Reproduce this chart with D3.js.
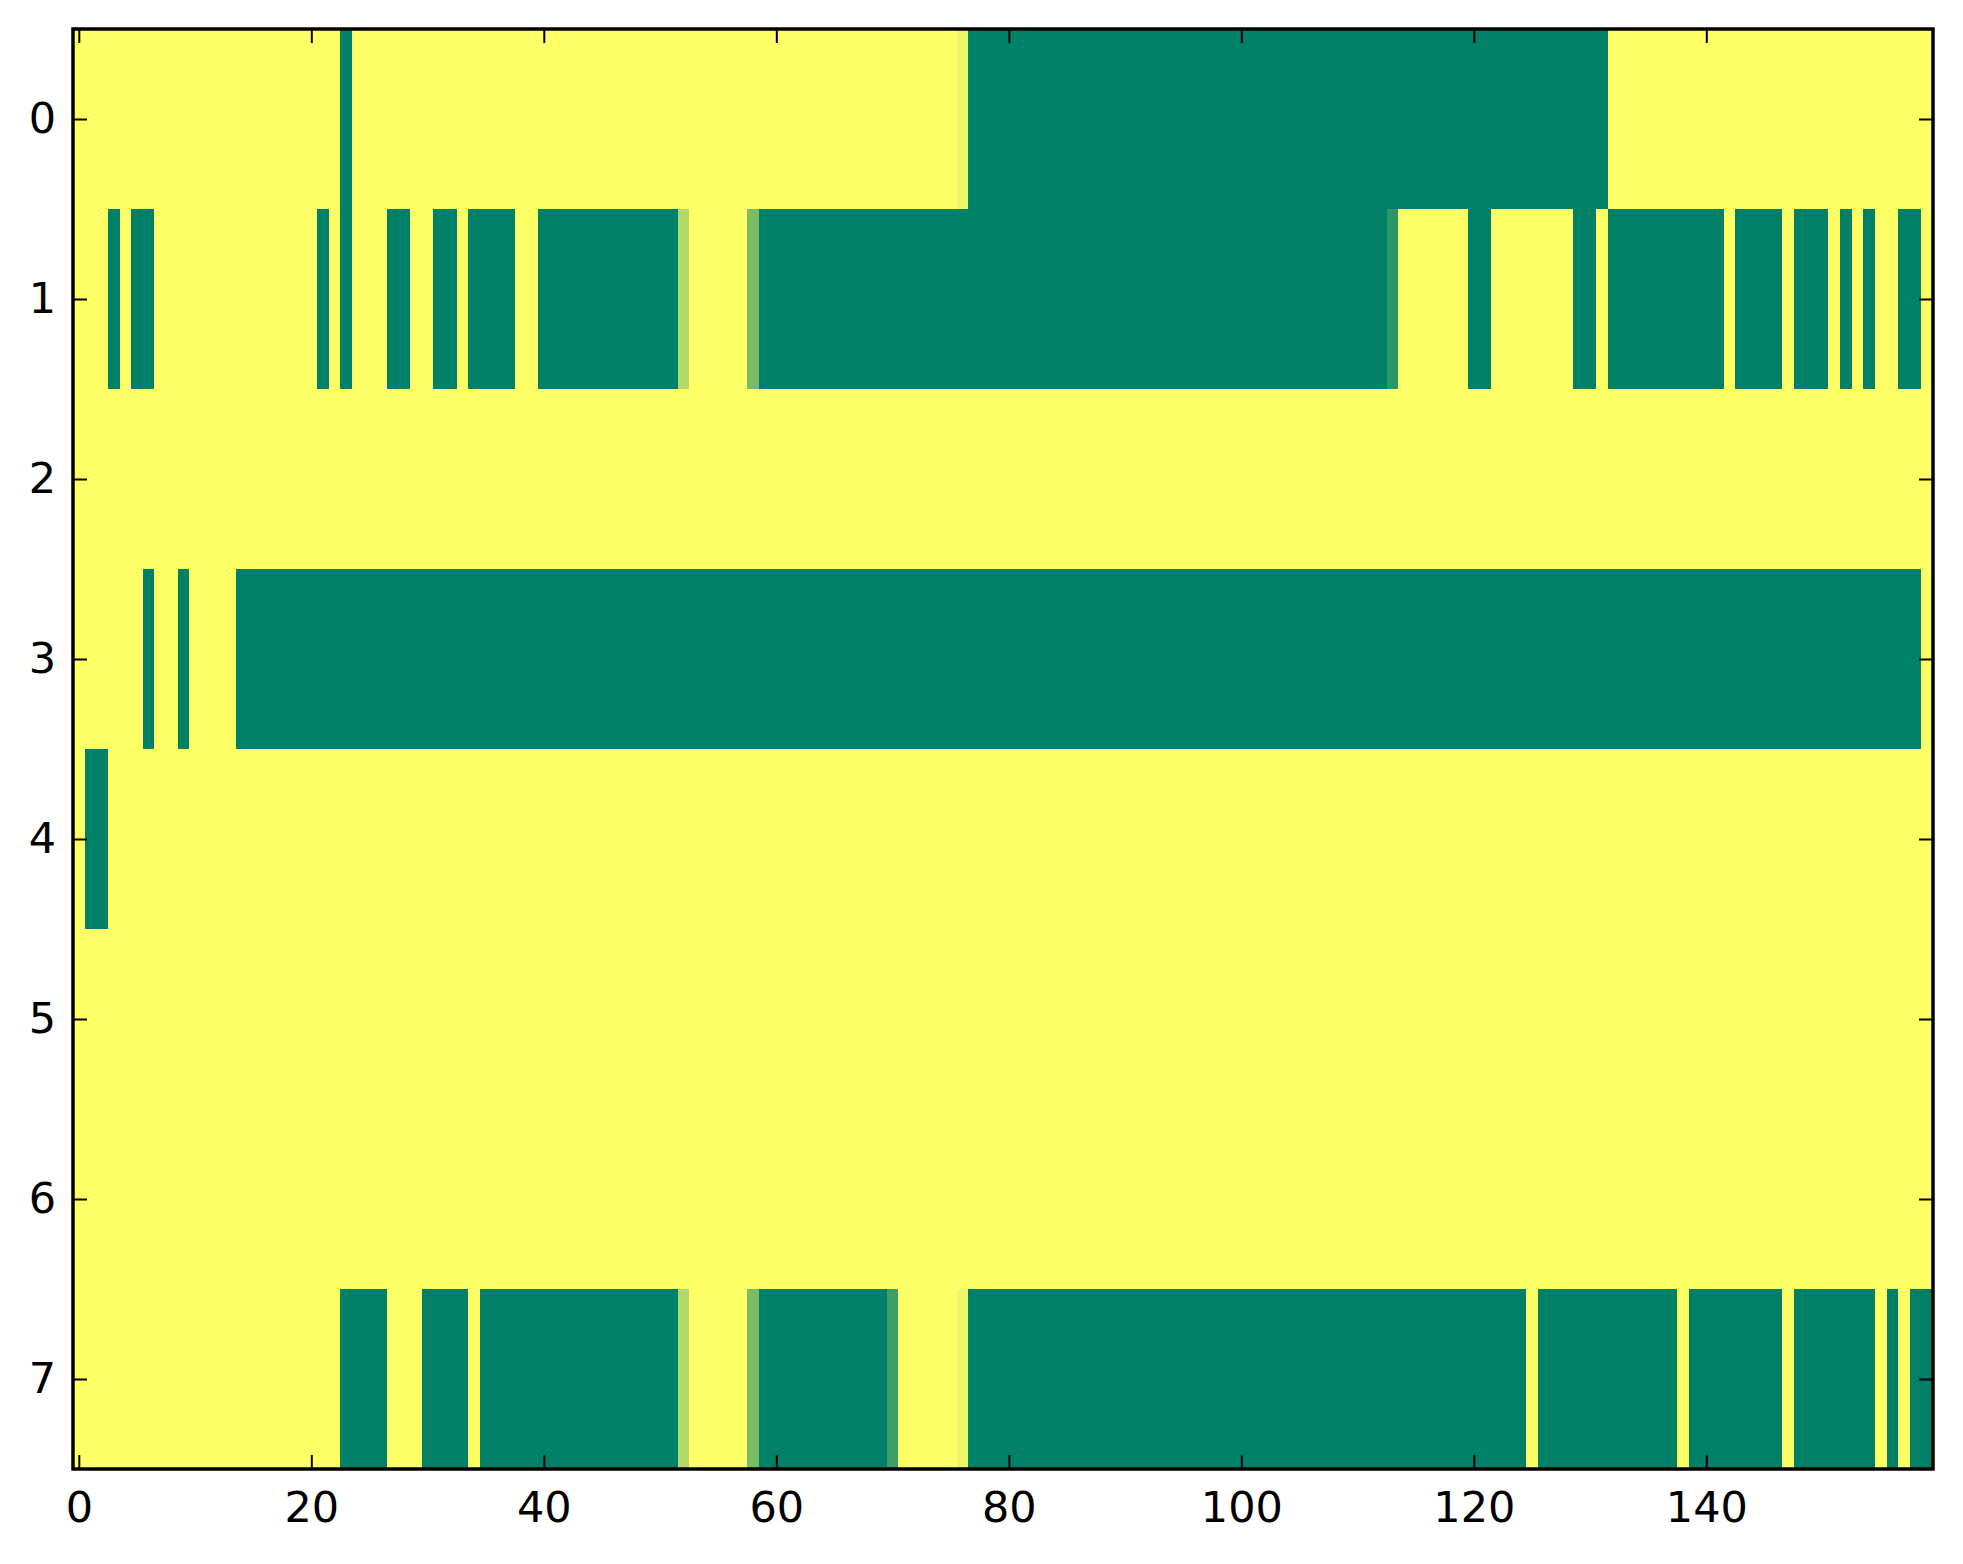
<!DOCTYPE html>
<html>
<head>
<meta charset="utf-8">
<script src="https://cdn.jsdelivr.net/npm/d3@7"></script>
<style>
  html, body { margin: 0; padding: 0; background: #ffffff; }
  svg { display: block; }
  text { font-family: "DejaVu Sans", sans-serif; }
</style>
</head>
<body>
<script>
// ---- data ----
const nRows = 8;
const nCols = 160;
const rowLabels = [0, 1, 2, 3, 4, 5, 6, 7];
const xTickValues = [0, 20, 40, 60, 80, 100, 120, 140];

// non-zero spans: [row, firstCol, lastCol, value]; everything else is 0
const row0Spans = [[0, 23, 23, 1], [0, 76, 76, 0.07], [0, 77, 131, 1]];
const row1Spans = [
  [1, 3, 3, 1], [1, 5, 6, 1], [1, 21, 21, 1], [1, 23, 23, 1], [1, 27, 28, 1],
  [1, 31, 32, 1], [1, 34, 37, 1], [1, 40, 51, 1], [1, 52, 52, 0.30],
  [1, 58, 58, 0.53], [1, 59, 112, 1], [1, 113, 113, 0.83], [1, 120, 121, 1],
  [1, 129, 130, 1], [1, 132, 141, 1], [1, 143, 146, 1], [1, 148, 150, 1],
  [1, 152, 152, 1], [1, 154, 154, 1], [1, 157, 158, 1]
];
const row3Spans = [[3, 6, 6, 1], [3, 9, 9, 1], [3, 14, 158, 1]];
const row4Spans = [[4, 1, 2, 1]];
const row7Spans = [
  [7, 23, 26, 1], [7, 30, 33, 1], [7, 35, 51, 1], [7, 52, 52, 0.30],
  [7, 58, 58, 0.53], [7, 59, 69, 1], [7, 70, 70, 0.76], [7, 76, 76, 0.07],
  [7, 77, 124, 1], [7, 126, 137, 1], [7, 139, 146, 1], [7, 148, 154, 1],
  [7, 156, 156, 1], [7, 158, 159, 1]
];

// build the matrix
const matrix = d3.range(nRows).map(() => new Array(nCols).fill(0));
[row0Spans, row1Spans, row3Spans, row4Spans, row7Spans].forEach(list =>
  list.forEach(([r, a, b, v]) => { for (let c = a; c <= b; c++) matrix[r][c] = v; })
);
const cells = [];
matrix.forEach((row, r) => row.forEach((v, c) => cells.push({ r, c, v })));

// ---- drawing ----
const W = 1963, H = 1564;
const L = 73, R = 1933, T = 29, B = 1469;

const svg = d3.select("body").append("svg").attr("width", W).attr("height", H);

const x = d3.scaleLinear().domain([-0.5, nCols - 0.5]).range([L, R]);
const y = d3.scaleLinear().domain([-0.5, nRows - 0.5]).range([T, B]);
// summer_r colormap: 0 -> yellow, 1 -> green
const color = d3.scaleLinear().domain([0, 1]).range(["#ffff66", "#008066"]).interpolate(d3.interpolateRgb);

svg.append("g")
  .attr("shape-rendering", "crispEdges")
  .selectAll("rect")
  .data(cells)
  .join("rect")
  .attr("x", d => x(d.c - 0.5))
  .attr("y", d => y(d.r - 0.5))
  .attr("width", d => x(d.c + 0.5) - x(d.c - 0.5) + 0.5)
  .attr("height", d => y(d.r + 0.5) - y(d.r - 0.5) + 0.5)
  .attr("fill", d => color(d.v));

const fontSize = 43;
const tickLen = 14;

function styleAxis(g) {
  g.select(".domain").remove();
  g.selectAll(".tick line").attr("stroke", "#000").attr("stroke-width", 2);
  g.selectAll(".tick text").attr("fill", "#000").style("font-size", fontSize + "px")
    .style("font-family", "'DejaVu Sans', sans-serif");
}

svg.append("g")
  .attr("transform", `translate(0,${B})`)
  .call(d3.axisBottom(x).tickValues(xTickValues).tickFormat(d3.format("d"))
    .tickSizeInner(-tickLen).tickSizeOuter(0).tickPadding(22))
  .call(styleAxis);

svg.append("g")
  .attr("transform", `translate(0,${T})`)
  .call(d3.axisTop(x).tickValues(xTickValues).tickFormat("")
    .tickSizeInner(-tickLen).tickSizeOuter(0))
  .call(styleAxis);

svg.append("g")
  .attr("transform", `translate(${L},0)`)
  .call(d3.axisLeft(y).tickValues(rowLabels).tickFormat(d3.format("d"))
    .tickSizeInner(-tickLen).tickSizeOuter(0).tickPadding(17))
  .call(styleAxis);

svg.append("g")
  .attr("transform", `translate(${R},0)`)
  .call(d3.axisRight(y).tickValues(rowLabels).tickFormat("")
    .tickSizeInner(-tickLen).tickSizeOuter(0))
  .call(styleAxis);

// frame
svg.append("rect")
  .attr("x", L).attr("y", T)
  .attr("width", R - L).attr("height", B - T)
  .attr("fill", "none").attr("stroke", "#000").attr("stroke-width", 3.5);
</script>
</body>
</html>
